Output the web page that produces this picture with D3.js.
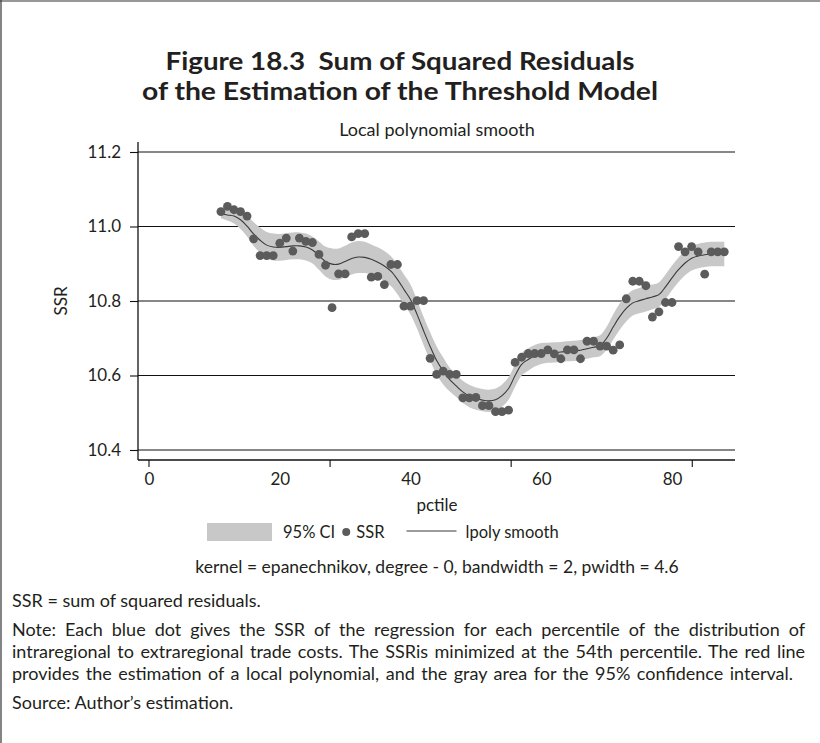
<!DOCTYPE html>
<html>
<head>
<meta charset="utf-8">
<script src="https://cdn.jsdelivr.net/npm/d3@7"></script>
<style>
  html, body { margin: 0; padding: 0; background: #fff; }
  svg { display: block; }
  text { font-family: Lato, "Open Sans", sans-serif; fill: #231f20; }
</style>
</head>
<body>
<svg id="chart" width="820" height="743"></svg>
<script>
// ---------- data ----------
const titleLines = ["Figure 18.3\u00a0\u00a0Sum of Squared Residuals", "of the Estimation of the Threshold Model"];
const subtitle = "Local polynomial smooth";
const xLabel = "pctile";
const yLabel = "SSR";
const xTickLabels = [0, 20, 40, 60, 80];
const xTickMarks = [0, 27.7, 55.4, 83.1];
const yTickLabels = [10.4, 10.6, 10.8, 11.0, 11.2];

const pctile = d3.range(11, 89); // 11 .. 88
const ssr = [
  11.040, 11.054, 11.045, 11.040, 11.028, 10.967, 10.922, 10.922, 10.922, 10.955,
  10.969, 10.934, 10.969, 10.960, 10.957, 10.925, 10.896, 10.782, 10.873, 10.873,
  10.972, 10.981, 10.981, 10.864, 10.866, 10.844, 10.898, 10.898, 10.786, 10.786,
  10.801, 10.801, 10.646, 10.603, 10.612, 10.603, 10.603, 10.540, 10.540, 10.541,
  10.519, 10.519, 10.503, 10.503, 10.507, 10.635, 10.649, 10.659, 10.659, 10.659,
  10.669, 10.658, 10.645, 10.669, 10.669, 10.645, 10.692, 10.692, 10.679, 10.679,
  10.668, 10.682, 10.806, 10.853, 10.853, 10.841, 10.757, 10.771, 10.796, 10.796,
  10.946, 10.932, 10.946, 10.932, 10.872, 10.932, 10.932, 10.932
];
const smooth = [
  11.034, 11.031, 11.028, 11.018, 11.001, 10.980, 10.963, 10.950, 10.945, 10.944,
  10.946, 10.948, 10.948, 10.945, 10.937, 10.922, 10.906, 10.899, 10.899, 10.906,
  10.914, 10.918, 10.917, 10.912, 10.904, 10.894, 10.880, 10.858, 10.831, 10.804,
  10.764, 10.720, 10.678, 10.640, 10.612, 10.589, 10.572, 10.556, 10.545, 10.538,
  10.534, 10.532, 10.535, 10.546, 10.565, 10.600, 10.630, 10.643, 10.653, 10.659,
  10.661, 10.662, 10.663, 10.665, 10.666, 10.668, 10.672, 10.676, 10.680, 10.700,
  10.730, 10.758, 10.780, 10.795, 10.801, 10.806, 10.811, 10.817, 10.838, 10.862,
  10.884, 10.902, 10.915, 10.921, 10.924, 10.926, 10.926, 10.926
];
const ciHalf = [
  0.012, 0.015, 0.020, 0.025, 0.028, 0.032, 0.034, 0.035, 0.036, 0.036,
  0.036, 0.036, 0.036, 0.036, 0.036, 0.038, 0.040, 0.042, 0.042, 0.042,
  0.043, 0.043, 0.042, 0.040, 0.040, 0.040, 0.040, 0.040, 0.040, 0.040,
  0.038, 0.038, 0.038, 0.038, 0.036, 0.032, 0.030, 0.030, 0.030, 0.030,
  0.030, 0.030, 0.030, 0.030, 0.030, 0.030, 0.030, 0.030, 0.029, 0.028,
  0.027, 0.027, 0.027, 0.027, 0.027, 0.027, 0.027, 0.027, 0.028, 0.031,
  0.034, 0.035, 0.035, 0.034, 0.034, 0.034, 0.033, 0.033, 0.033, 0.033,
  0.033, 0.033, 0.033, 0.033, 0.033, 0.033, 0.033, 0.033
];
const legendItems = ["95% CI", "SSR", "lpoly smooth"];
const kernelNote = "kernel = epanechnikov, degree - 0, bandwidth = 2, pwidth = 4.6";
const footnotes = ["SSR = sum of squared residuals."];
const noteLines = [
  "Note: Each blue dot gives the SSR of the regression for each percentile of the distribution of",
  "intraregional to extraregional trade costs. The SSRis minimized at the 54th percentile. The red line",
  "provides the estimation of a local polynomial, and the gray area for the 95% confidence interval."
];
const sourceLine = "Source: Author\u2019s estimation.";

// ---------- drawing ----------
const svg = d3.select("#chart");
const W = 820, H = 743;
const plot = { left: 138, right: 735, top: 142, bottom: 460 };
const FS = 17;

const x = d3.scaleLinear().domain([0, 80]).range([149, 672]);
const y = d3.scaleLinear().domain([10.4, 11.2]).range([450, 152]);

const data = pctile.map((p, i) => ({ p, v: ssr[i], s: smooth[i], lo: smooth[i] - ciHalf[i], hi: smooth[i] + ciHalf[i] }));

// frame
svg.append("line").attr("x1", 0).attr("x2", W).attr("y1", 1).attr("y2", 1).attr("stroke", "#333").attr("stroke-width", 1.2);
svg.append("line").attr("x1", 1).attr("x2", 1).attr("y1", 0).attr("y2", H).attr("stroke", "#333").attr("stroke-width", 1.2);

// title
const titleWidths = [469, 516];
titleLines.forEach((t, i) => {
  svg.append("text").attr("x", 400).attr("y", 70 + i * 30)
    .attr("text-anchor", "middle").attr("font-size", 24.5).attr("font-weight", 700)
    .attr("textLength", titleWidths[i]).attr("lengthAdjust", "spacingAndGlyphs")
    .text(t);
});
svg.append("text").attr("x", 437).attr("y", 136).attr("text-anchor", "middle").attr("font-size", 18).text(subtitle);

// gridlines
svg.append("g").selectAll("line").data(yTickLabels).join("line")
  .attr("x1", plot.left).attr("x2", plot.right)
  .attr("y1", d => y(d)).attr("y2", d => y(d))
  .attr("stroke", "#111").attr("stroke-width", 1.1);

// y axis
const yAxis = d3.axisLeft(y).tickValues(yTickLabels).tickFormat(d3.format(".1f")).tickSize(8).tickPadding(9);
const gy = svg.append("g").attr("transform", `translate(${plot.left},0)`).call(yAxis);
gy.select(".domain").remove();
gy.selectAll("line").attr("stroke", "#111").attr("stroke-width", 1.1);
gy.selectAll("text").attr("font-size", FS).attr("font-family", "Lato, sans-serif").attr("fill", "#231f20");
svg.append("line").attr("x1", plot.left).attr("x2", plot.left).attr("y1", plot.top).attr("y2", plot.bottom).attr("stroke", "#111").attr("stroke-width", 1.3);

// x axis
svg.append("line").attr("x1", plot.left).attr("x2", plot.right).attr("y1", plot.bottom).attr("y2", plot.bottom).attr("stroke", "#111").attr("stroke-width", 1.3);
const xAxisLabels = d3.axisBottom(x).tickValues(xTickLabels).tickSize(0).tickPadding(13);
const gx = svg.append("g").attr("transform", `translate(0,${plot.bottom})`).call(xAxisLabels);
gx.select(".domain").remove();
gx.selectAll("text").attr("font-size", FS).attr("font-family", "Lato, sans-serif").attr("fill", "#231f20");
svg.append("g").selectAll("line").data(xTickMarks).join("line")
  .attr("x1", d => x(d)).attr("x2", d => x(d))
  .attr("y1", plot.bottom).attr("y2", plot.bottom + 7)
  .attr("stroke", "#111").attr("stroke-width", 1.1);

// axis titles
svg.append("text").attr("x", 437).attr("y", 511).attr("text-anchor", "middle").attr("font-size", FS).text(xLabel);
svg.append("text").attr("transform", "translate(67,301) rotate(-90)").attr("text-anchor", "middle").attr("font-size", FS).text(yLabel);

// CI band
const area = d3.area().x(d => x(d.p)).y0(d => y(d.lo)).y1(d => y(d.hi)).curve(d3.curveCatmullRom);
svg.append("path").datum(data).attr("d", area).attr("fill", "#c8c8c8");

// smooth line
const line = d3.line().x(d => x(d.p)).y(d => y(d.s)).curve(d3.curveCatmullRom);
svg.append("path").datum(data).attr("d", line).attr("fill", "none").attr("stroke", "#3a3a3a").attr("stroke-width", 1.1);

// dots
svg.append("g").selectAll("circle").data(data).join("circle")
  .attr("cx", d => x(d.p)).attr("cy", d => y(d.v)).attr("r", 4.4)
  .attr("fill", "#5b5b5b");

// legend
const LFS = 16.5;
const lg = svg.append("g");
lg.append("rect").attr("x", 207).attr("y", 523).attr("width", 65).attr("height", 18).attr("fill", "#c8c8c8");
const t1 = lg.append("text").attr("x", 283).attr("y", 538).attr("font-size", LFS).text(legendItems[0]);
const dotX = 283 + t1.node().getComputedTextLength() + 11;
lg.append("circle").attr("cx", dotX).attr("cy", 532).attr("r", 4).attr("fill", "#5b5b5b");
const t2 = lg.append("text").attr("x", dotX + 10).attr("y", 538).attr("font-size", LFS).text(legendItems[1]);
const lineX = dotX + 10 + t2.node().getComputedTextLength() + 22;
lg.append("line").attr("x1", lineX).attr("x2", lineX + 50).attr("y1", 531).attr("y2", 531).attr("stroke", "#3a3a3a").attr("stroke-width", 1.1);
lg.append("text").attr("x", lineX + 59).attr("y", 538).attr("font-size", LFS).text(legendItems[2]);

svg.append("text").attr("x", 437).attr("y", 573).attr("text-anchor", "middle").attr("font-size", 17.5).text(kernelNote);

// footnotes
const NFS = 18;
svg.append("text").attr("x", 12).attr("y", 607).attr("font-size", NFS).text(footnotes[0]);
const noteWidths = [793, 793, 781];
noteLines.forEach((t, i) => {
  const tx = svg.append("text").attr("x", 12).attr("y", 636 + i * 22).attr("font-size", NFS).text(t);
  const natural = tx.node().getComputedTextLength();
  const spaces = (t.match(/ /g) || []).length;
  const extra = (noteWidths[i] - natural) / spaces;
  tx.attr("word-spacing", extra);
});
svg.append("text").attr("x", 12).attr("y", 709).attr("font-size", NFS).text(sourceLine);
</script>
</body>
</html>
